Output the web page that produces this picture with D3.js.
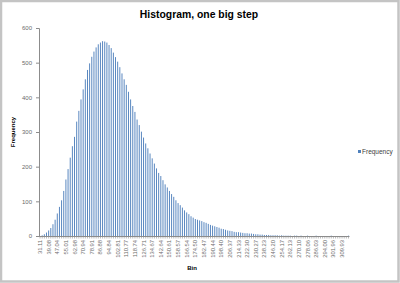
<!DOCTYPE html>
<html>
<head>
<meta charset="utf-8">
<script src="https://cdn.jsdelivr.net/npm/d3@7"></script>
<style>
  html, body { margin: 0; padding: 0; background: #fff; }
  svg { display: block; font-family: "Liberation Sans", Arial, sans-serif; }
</style>
</head>
<body>
<svg id="chart" width="400" height="283"></svg>
<script>
const chartTitle = "Histogram, one big step"
const seriesName = "Frequency"
const xTitle = "Bin"
const yTitle = "Frequency"

// one value per bin
const frequency = [
  0, 2, 5, 10, 16, 23, 34, 47, 65, 84,
  103, 130, 163, 193, 226, 259, 286, 330, 361, 394,
  423, 452, 479, 498, 517, 532, 544, 553, 558, 562,
  561, 558, 551, 542, 529, 516, 503, 487, 469, 452,
  436, 416, 394, 375, 358, 336, 320, 301, 284, 267,
  253, 238, 224, 209, 195, 182, 173, 161, 149, 140,
  130, 121, 113, 103, 95, 89, 82, 74, 68, 63,
  57, 53, 49, 47, 45, 43, 40, 38, 35, 32,
  30, 28, 26, 24, 21, 20, 18, 16, 15, 14,
  12, 11, 11, 10, 9, 8, 8, 7, 7, 6,
  5, 5, 4, 4, 3, 3, 3, 2, 2, 2,
  2, 1, 2, 1, 1, 1, 1, 0, 1, 1,
  0, 1, 0, 0, 1, 0, 0, 0, 1, 0,
  0, 0, 0, 0, 0, 1, 0, 0, 0, 0,
  0, 0, 0, 1
]

// only every 4th bin gets a label
const binLabels = [
  "31.11", "39.08", "47.04", "55.01", "62.98", "70.94", "78.91", "86.88", "94.84",
  "102.81", "110.77", "118.74", "126.71", "134.67", "142.64", "150.61", "158.57",
  "166.54", "174.50", "182.47", "190.44", "198.40", "206.37", "214.33", "222.30",
  "230.27", "238.23", "246.20", "254.17", "262.13", "270.10", "278.06", "286.03",
  "294.00", "301.96", "309.93"
]
const labelEvery = 4
const yTicks = [0, 100, 200, 300, 400, 500, 600]

const barColor = '#5282bd'
const axisColor = '#8c8c8c'
const labelColor = '#6a6a6a'

var svg = d3.select('#chart')

var plot = { left: 39, right: 349.5, top: 28, bottom: 236 }

var x = d3.scaleBand()
  .domain(d3.range(frequency.length))
  .range([plot.left, plot.right])
  .paddingInner(0.56)
  .paddingOuter(0.25)

var y = d3.scaleLinear().domain([0, 600]).range([plot.bottom, plot.top])

drawFrame()
drawBars()
drawAxes()
drawTexts()
drawLegend()

function drawFrame() {
  svg.append('rect')
    .attr('x', 1).attr('y', 1)
    .attr('width', 397.5).attr('height', 280.5)
    .attr('fill', '#fff')
    .attr('stroke', '#c4c4c4')
    .attr('stroke-width', 2.5)
}

function drawBars() {
  svg.append('g')
    .selectAll('rect')
    .data(frequency)
    .join('rect')
    .attr('x', (d, i) => x(i))
    .attr('y', d => y(d))
    .attr('width', x.bandwidth())
    .attr('height', d => plot.bottom - y(d))
    .attr('fill', barColor)
}

function drawAxes() {
  var yAxis = d3.axisLeft(y).tickValues(yTicks).tickSize(3).tickPadding(4)
  var gy = svg.append('g')
    .attr('transform', `translate(${plot.left},0)`)
    .call(yAxis)
  gy.select('.domain').attr('stroke', axisColor)
  gy.selectAll('.tick line').attr('stroke', axisColor)
  gy.selectAll('.tick text')
    .attr('fill', labelColor)
    .attr('font-size', 6)
    .attr('font-family', '"Liberation Sans", Arial, sans-serif')

  // tick marks between every bin, labels on every 4th
  var xAxis = d3.axisBottom(x)
    .tickSize(2.5)
    .tickFormat((i) => i % labelEvery === 0 ? binLabels[i / labelEvery] : '')
  var gx = svg.append('g')
    .attr('transform', `translate(0,${plot.bottom})`)
    .call(xAxis)
  gx.select('.domain').attr('stroke', axisColor).attr('d', `M${plot.left},0.5H${plot.right}`)
  gx.selectAll('.tick line')
    .attr('stroke', axisColor)
    .attr('stroke-width', 0.6)
  gx.selectAll('.tick text')
    .attr('fill', labelColor)
    .attr('font-size', 5.8)
    .attr('font-family', '"Liberation Sans", Arial, sans-serif')
    .attr('text-anchor', 'end')
    .attr('transform', 'rotate(-90)')
    .attr('x', -4)
    .attr('y', 0)
    .attr('dy', '0.35em')
}

function drawTexts() {
  svg.append('text')
    .attr('x', 199).attr('y', 18)
    .attr('text-anchor', 'middle')
    .attr('font-size', 10.4)
    .attr('font-weight', 'bold')
    .attr('fill', '#000')
    .text(chartTitle)

  svg.append('text')
    .attr('transform', `translate(15,${(plot.top + plot.bottom) / 2}) rotate(-90)`)
    .attr('text-anchor', 'middle')
    .attr('font-size', 6)
    .attr('font-weight', 'bold')
    .attr('fill', '#000')
    .text(yTitle)

  svg.append('text')
    .attr('x', 192).attr('y', 270)
    .attr('text-anchor', 'middle')
    .attr('font-size', 6)
    .attr('font-weight', 'bold')
    .attr('fill', '#000')
    .text(xTitle)
}

function drawLegend() {
  svg.append('rect')
    .attr('x', 358).attr('y', 150)
    .attr('width', 3).attr('height', 3)
    .attr('fill', '#4f81bd')
  svg.append('text')
    .attr('x', 362).attr('y', 154)
    .attr('font-size', 6.5)
    .attr('fill', '#404040')
    .text(seriesName)
}
</script>
</body>
</html>
